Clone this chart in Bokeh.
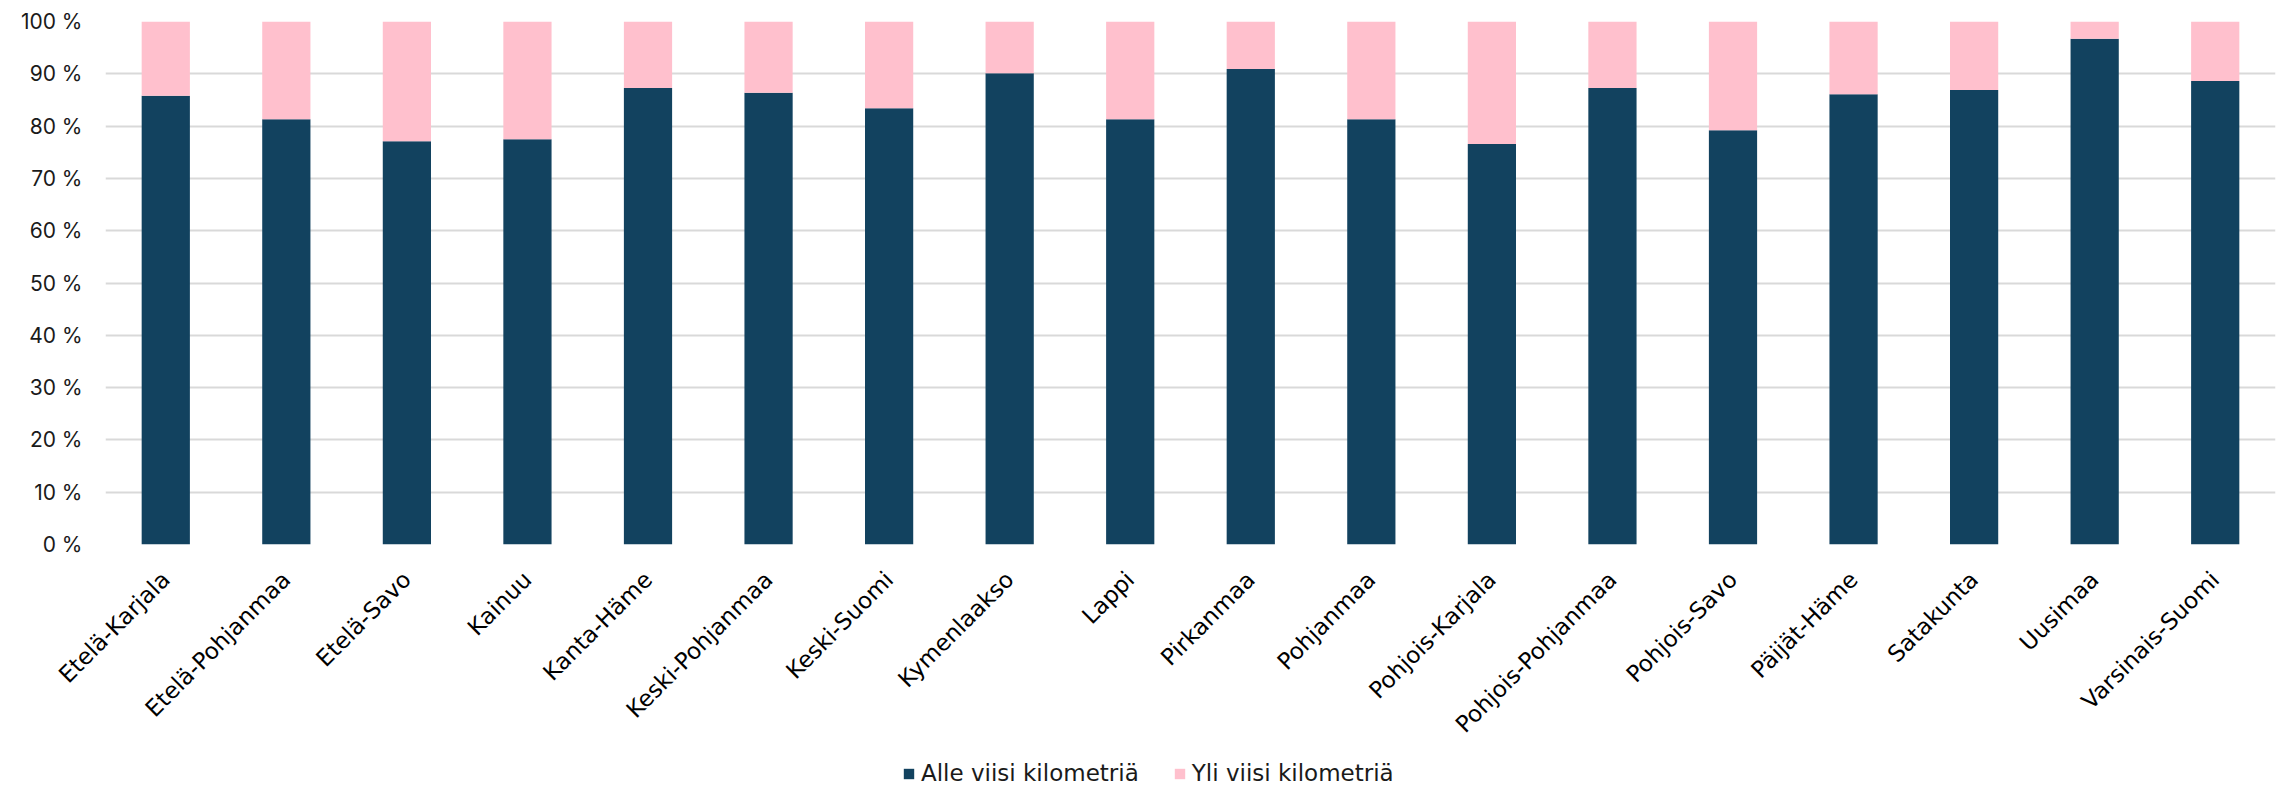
import math
from bokeh.plotting import figure
from bokeh.layouts import column
from bokeh.models import ColumnDataSource, FactorRange, Range1d, FixedTicker, Legend, LegendItem
from bokeh.embed import file_html
from bokeh.resources import INLINE

regions = ["Etelä-Karjala", "Etelä-Pohjanmaa", "Etelä-Savo", "Kainuu", "Kanta-Häme",
           "Keski-Pohjanmaa", "Keski-Suomi", "Kymenlaakso", "Lappi", "Pirkanmaa",
           "Pohjanmaa", "Pohjois-Karjala", "Pohjois-Pohjanmaa", "Pohjois-Savo",
           "Päijät-Häme", "Satakunta", "Uusimaa", "Varsinais-Suomi"]
alle = [85.8, 81.3, 77.1, 77.5, 87.3, 86.4, 83.4, 90.1, 81.3, 90.9,
        81.3, 76.6, 87.3, 79.2, 86.1, 86.9, 96.7, 88.6]
yli = [14.2, 18.7, 22.9, 22.5, 12.7, 13.6, 16.6, 9.9, 18.7, 9.1,
       18.7, 23.4, 12.7, 20.8, 13.9, 13.1, 3.3, 11.4]
series_labels = ["Alle viisi kilometriä", "Yli viisi kilometriä"]
y_ticks = [0, 10, 20, 30, 40, 50, 60, 70, 80, 90, 100]
y_tick_labels = [f"{t} %" for t in y_ticks]

colors = ["#12425F", "#FFC0CD"]

source = ColumnDataSource(data=dict(region=regions, alle=alle, yli=yli))

p = figure(x_range=FactorRange(*regions, range_padding=0), y_range=Range1d(0, 100),
           width=2284, height=756, output_backend="svg", toolbar_location=None,
           min_border_left=105, min_border_right=9, min_border_top=21, min_border_bottom=212)

p.vbar_stack(["alle", "yli"], x="region", width=0.4, color=colors, source=source,
             line_color=None)

p.outline_line_color = None
p.xgrid.grid_line_color = None
p.ygrid.grid_line_color = "#D9D9D9"
p.ygrid.grid_line_width = 2
p.ygrid.ticker = FixedTicker(ticks=y_ticks)

ya = p.yaxis[0]
ya.ticker = FixedTicker(ticks=y_ticks)
ya.major_label_overrides = {t: lab for t, lab in zip(y_ticks, y_tick_labels)}
ya.axis_line_color = None
ya.major_tick_line_color = None
ya.minor_tick_line_color = None
ya.major_tick_out = 0
ya.major_label_standoff = 23
ya.major_label_text_font = "Inter"
ya.major_label_text_font_size = "21px"
ya.major_label_text_color = "#1a1a1a"

xa = p.xaxis[0]
xa.axis_line_color = None
xa.major_tick_line_color = None
xa.major_tick_out = 0
xa.major_label_standoff = 31
xa.major_label_orientation = math.pi / 4
xa.major_label_text_font = "DejaVu Sans"
xa.major_label_text_font_size = "23px"
xa.major_label_text_color = "#000000"

# legend strip below the chart (its bars fall outside its y range, only the legend shows)
lf = figure(width=2284, height=32, x_range=FactorRange(*regions, range_padding=0),
            y_range=Range1d(1000, 1001), output_backend="svg", toolbar_location=None,
            min_border_left=105, min_border_right=9, min_border_top=0, min_border_bottom=0)
lf.axis.visible = False
lf.grid.visible = False
lf.outline_line_color = None
rs = lf.vbar_stack(["alle", "yli"], x="region", width=0.001, color=colors, source=source,
                   line_color=None)
items = [LegendItem(label=lab, renderers=[r]) for lab, r in zip(series_labels, rs)]
lg = Legend(items=items, orientation="horizontal", location=(797, 2))
lg.border_line_color = None
lg.background_fill_alpha = 0
lg.padding = 0
lg.margin = 0
lg.spacing = 34
lg.glyph_width = 13
lg.glyph_height = 13
lg.label_standoff = 6
lg.label_height = 20
lg.label_text_font = "DejaVu Sans"
lg.label_text_font_size = "23px"
lg.label_text_color = "#1a1a1a"
lf.add_layout(lg, "center")

layout = column(p, lf, spacing=0)
open("out.html", "w").write(file_html(layout, INLINE))
